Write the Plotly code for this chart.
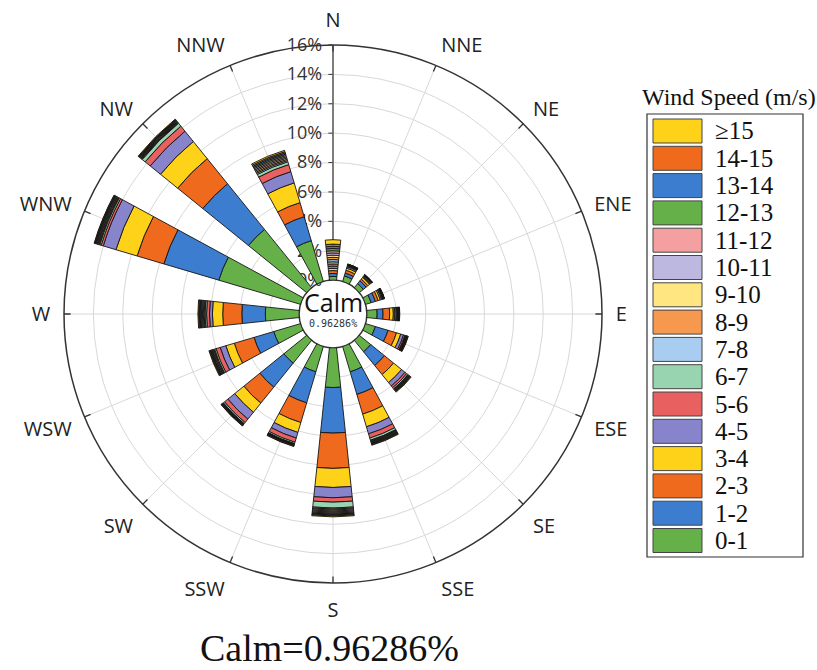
import plotly.graph_objects as go

W, H = 817, 670

directions = ["N", "NNE", "NE", "ENE", "E", "ESE", "SE", "SSE",
              "S", "SSW", "SW", "WSW", "W", "WNW", "NW", "NNW"]
angles = [i * 22.5 for i in range(16)]

speed_bins = ["0-1", "1-2", "2-3", "3-4", "4-5", "5-6", "6-7", "7-8",
              "8-9", "9-10", "10-11", "11-12", "12-13", "13-14", "14-15", "≥15"]

bin_colors = ["#66b04a", "#3c7dd0", "#f06a1e", "#ffd21a", "#8884cb", "#e8605f",
              "#98d4b0", "#a9cdf0", "#f7984f", "#ffe680", "#bdb8e0", "#f4a0a0",
              "#66b04a", "#3c7dd0", "#f06a1e", "#ffd21a"]

# frequency (%) per speed bin, per direction (N, NNE, ..., NNW)
s0_1   = [0.25, 0.40, 0.35, 0.40, 0.70, 0.70, 1.00, 1.80, 2.70, 1.80, 2.00, 1.90, 2.30, 5.80, 5.10, 2.90]
s1_2   = [0.20, 0.20, 0.25, 0.30, 0.40, 0.90, 1.20, 1.60, 3.10, 2.20, 2.10, 1.40, 1.60, 3.90, 4.00, 1.70]
s2_3   = [0.20, 0.20, 0.15, 0.20, 0.45, 0.60, 0.80, 1.40, 2.40, 1.40, 1.40, 1.40, 1.30, 1.90, 2.20, 1.00]
s3_4   = [0.15, 0.15, 0.15, 0.15, 0.25, 0.30, 0.70, 0.90, 1.30, 0.70, 0.80, 0.60, 0.70, 1.50, 1.50, 1.40]
s4_5   = [0.15, 0.10, 0.05, 0.10, 0.10, 0.20, 0.30, 0.50, 0.70, 0.40, 0.60, 0.40, 0.20, 0.90, 0.90, 0.80]
s5_6   = [0.15, 0.05, 0.05, 0.05, 0.10, 0.10, 0.15, 0.30, 0.30, 0.30, 0.30, 0.30, 0.20, 0.15, 0.45, 0.50]
s6_7   = [0.15, 0.05, 0.05, 0.05, 0.05, 0.05, 0.10, 0.15, 0.40, 0.10, 0.10, 0.10, 0.10, 0.10, 0.25, 0.20]
s7_8   = [0.15, 0.01, 0.01, 0.02, 0.03, 0.02, 0.03, 0.04, 0.07, 0.02, 0.02, 0.05, 0.06, 0.05, 0.04, 0.09]
s8_9   = [0.15, 0.01, 0.01, 0.01, 0.02, 0.02, 0.03, 0.04, 0.07, 0.02, 0.02, 0.05, 0.06, 0.05, 0.04, 0.09]
s9_10  = [0.15, 0.01, 0.01, 0.01, 0.02, 0.02, 0.03, 0.04, 0.07, 0.02, 0.02, 0.05, 0.06, 0.05, 0.04, 0.09]
s10_11 = [0.15, 0.01, 0.01, 0.01, 0.02, 0.02, 0.03, 0.04, 0.07, 0.02, 0.02, 0.05, 0.06, 0.05, 0.04, 0.09]
s11_12 = [0.15, 0.01, 0.01, 0.01, 0.02, 0.02, 0.03, 0.04, 0.07, 0.02, 0.02, 0.04, 0.05, 0.05, 0.04, 0.09]
s12_13 = [0.15, 0.01, 0.01, 0.01, 0.02, 0.02, 0.03, 0.04, 0.07, 0.02, 0.02, 0.04, 0.05, 0.05, 0.04, 0.09]
s13_14 = [0.15, 0.01, 0.01, 0.01, 0.02, 0.02, 0.03, 0.04, 0.06, 0.02, 0.02, 0.04, 0.05, 0.04, 0.04, 0.09]
s14_15 = [0.15, 0.01, 0.01, 0.01, 0.02, 0.02, 0.03, 0.04, 0.06, 0.03, 0.03, 0.04, 0.05, 0.03, 0.04, 0.09]
s15_up = [0.30, 0.01, 0.01, 0.01, 0.02, 0.03, 0.04, 0.04, 0.06, 0.03, 0.03, 0.04, 0.05, 0.03, 0.04, 0.09]

series = [s0_1, s1_2, s2_3, s3_4, s4_5, s5_6, s6_7, s7_8, s8_9, s9_10,
          s10_11, s11_12, s12_13, s13_14, s14_15, s15_up]

radial_ticks = [0, 2, 4, 6, 8, 10, 12, 14, 16]
radial_ticktext = [f"{v}%" for v in radial_ticks]
r_max = 16
calm_value = "0.96286%"

fig = go.Figure()
for name, vals, col in zip(speed_bins, series, bin_colors):
    fig.add_trace(go.Barpolar(
        r=vals, theta=angles, name=name, width=12,
        marker=dict(color=col, line=dict(color="#151515", width=0.9)),
        showlegend=False,
    ))

# inward tick marks on the outer circle, one per direction
tick_r, tick_t = [], []
for a in angles:
    tick_r += [r_max - 0.45, r_max, None]
    tick_t += [a, a, None]
fig.add_trace(go.Scatterpolar(r=tick_r, theta=tick_t, mode="lines",
                              line=dict(color="#333", width=1.3),
                              hoverinfo="skip", showlegend=False))

# polar area geometry (pixels)
cx, cy, R = 333, 314, 269
dom_x = [(cx - R) / W, (cx + R) / W]
dom_y = [1 - (cy + R) / H, 1 - (cy - R) / H]

fig.update_layout(
    width=W, height=H,
    margin=dict(l=0, r=0, t=0, b=0),
    paper_bgcolor="white",
    plot_bgcolor="white",
    polar=dict(
        domain=dict(x=dom_x, y=dom_y),
        bgcolor="white",
        hole=0.126,
        barmode="stack",
        radialaxis=dict(
            range=[0, r_max], tickmode="array", tickvals=radial_ticks,
            ticktext=radial_ticktext,
            angle=90, tickangle=90, side="counterclockwise",
            showline=True, linecolor="#333", linewidth=1.2,
            ticks="outside", ticklen=4, tickcolor="#333",
            gridcolor="#d8d8d8", gridwidth=1,
            tickfont=dict(family="Open Sans, Arial", size=18, color="#333"),
            layer="below traces",
        ),
        angularaxis=dict(
            rotation=90, direction="clockwise",
            tickmode="array", tickvals=angles, ticktext=directions,
            showline=True, linecolor="#333", linewidth=1.5,
            ticks="outside", ticklen=9, tickcolor="rgba(0,0,0,0)",
            gridcolor="#d8d8d8", gridwidth=1,
            tickfont=dict(family="Open Sans, Arial", size=20, color="#222"),
            layer="below traces",
        ),
    ),
)

# custom legend (large swatches)
shapes = []
annotations = []
box_l, box_r, box_t, box_b = 647, 803, 114, 557
shapes.append(dict(type="rect", xref="paper", yref="paper",
                   x0=box_l / W, x1=box_r / W, y0=1 - box_b / H, y1=1 - box_t / H,
                   line=dict(color="#333", width=1.2), fillcolor="rgba(0,0,0,0)"))
pitch = 27.3
for i, (name, col) in enumerate(zip(speed_bins[::-1], bin_colors[::-1])):
    top = 119 + pitch * i
    shapes.append(dict(type="rect", xref="paper", yref="paper",
                       x0=653 / W, x1=702 / W, y0=1 - (top + 24) / H, y1=1 - top / H,
                       line=dict(color="#444", width=1), fillcolor=col))
    annotations.append(dict(x=713 / W, y=1 - (top + 12) / H, xref="paper", yref="paper",
                            text=name, showarrow=False, xanchor="left", yanchor="middle",
                            font=dict(family="Liberation Serif, Times New Roman", size=25, color="#111")))

annotations.append(dict(x=729 / W, y=1 - 97 / H, xref="paper", yref="paper",
                        text="Wind Speed (m/s)", showarrow=False,
                        xanchor="center", yanchor="middle",
                        font=dict(family="Liberation Serif, Times New Roman", size=24, color="#111")))
annotations.append(dict(x=cx / W, y=1 - 302 / H, xref="paper", yref="paper",
                        text="Calm", showarrow=False, xanchor="center", yanchor="middle",
                        font=dict(family="Open Sans, Arial", size=25, color="#111")))
annotations.append(dict(x=cx / W, y=1 - 323 / H, xref="paper", yref="paper",
                        text=calm_value, showarrow=False, xanchor="center", yanchor="middle",
                        font=dict(family="DejaVu Sans Mono", size=10, color="#333")))
annotations.append(dict(x=329 / W, y=1 - 648 / H, xref="paper", yref="paper",
                        text="Calm=" + calm_value, showarrow=False, xanchor="center", yanchor="middle",
                        font=dict(family="Liberation Serif, Times New Roman", size=38, color="#111")))

fig.update_layout(shapes=shapes, annotations=annotations)
fig.write_html("out.html", config={"displayModeBar": False},
               post_script="document.body.style.margin='0px';document.body.style.overflow='hidden';")
